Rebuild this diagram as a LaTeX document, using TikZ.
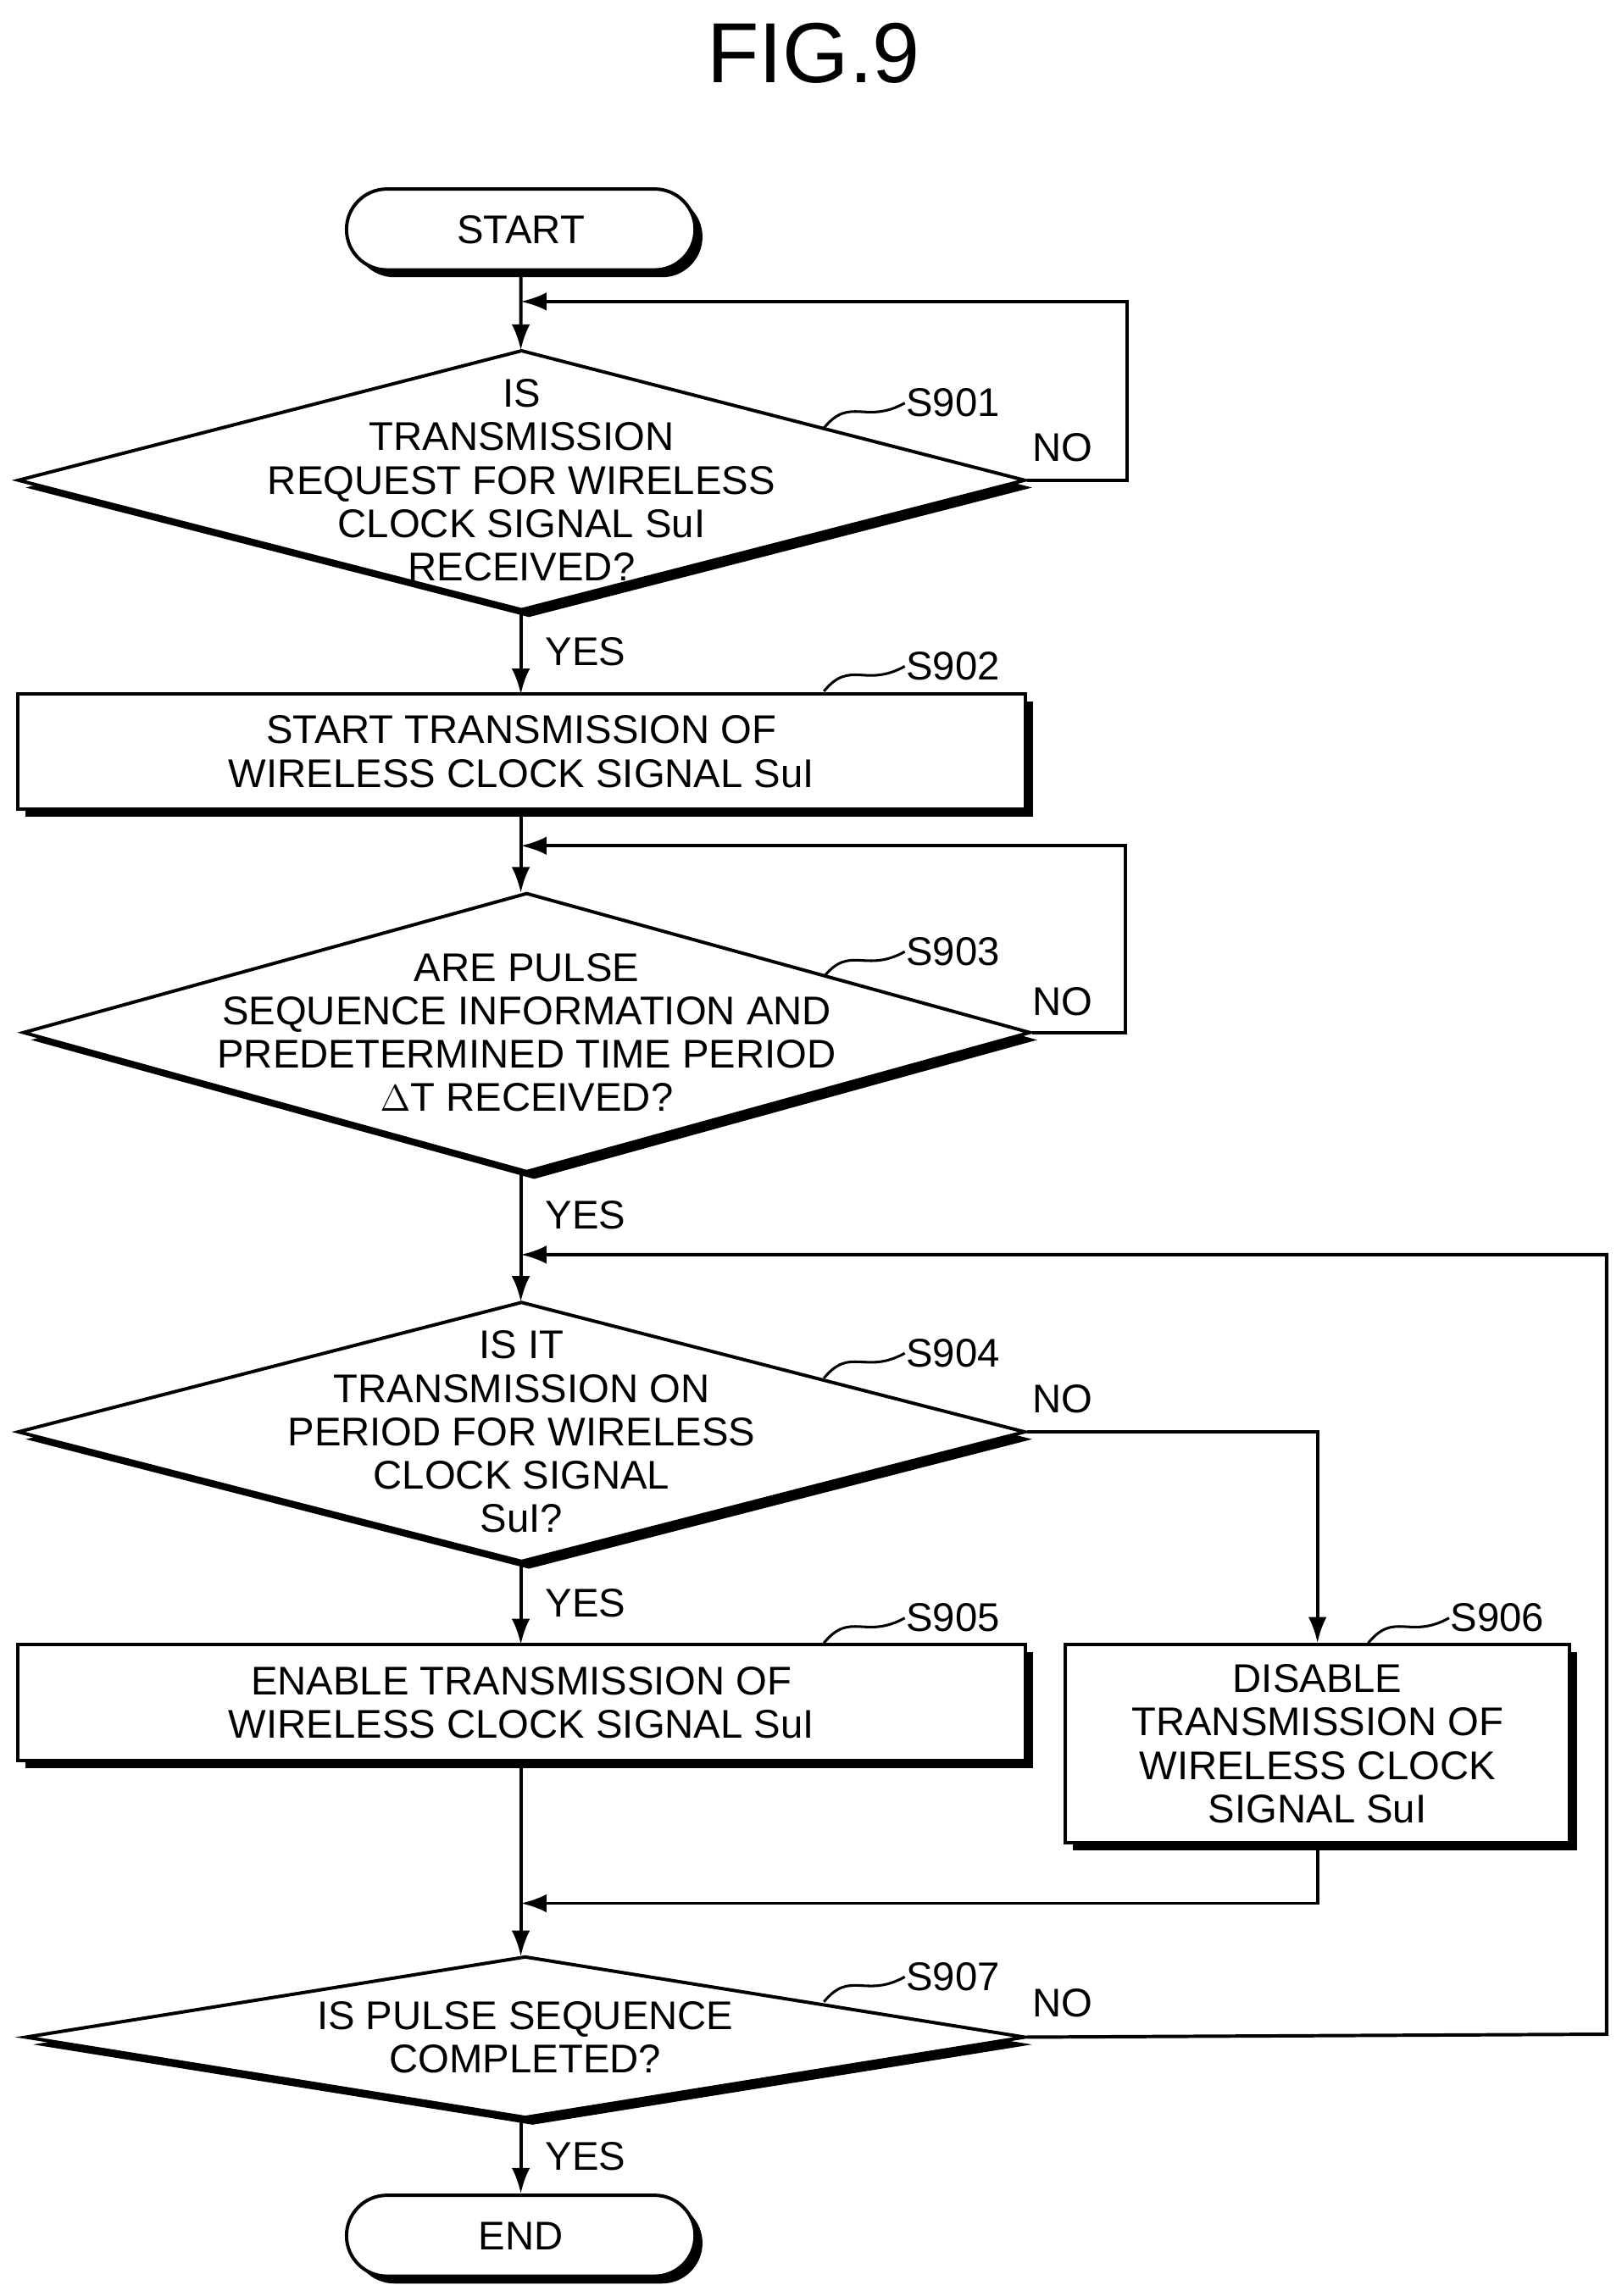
\documentclass[tikz,border=0pt]{standalone}
\usepackage{fontspec}
\setmainfont{Liberation Sans}
\usetikzlibrary{shapes.geometric,shapes.misc,shadows,arrows.meta}

\tikzset{
  base/.style={draw, line width=1.3pt, fill=white, inner sep=0pt,
    drop shadow={shadow xshift=0.1cm, shadow yshift=-0.1cm, fill=black, opacity=1}},
  term/.style={base, rounded rectangle, minimum width=4.74cm, minimum height=1.1cm},
  proc/.style={base, rectangle, align=center},
  dec/.style={base, diamond, text width=0pt},
  txt/.style={align=center, inner sep=0pt},
  line/.style={line width=1.3pt},
  arr/.style={line, -{Latex[length=0.35cm,width=0.25cm]}},
  steplbl/.style={anchor=west, inner sep=0pt},
  yn/.style={anchor=center, inner sep=0pt}
}

\begin{document}
\begin{tikzpicture}[x=0.02cm, y=-0.02cm, font=\fontsize{15.5}{16.8}\selectfont]
\useasboundingbox (0,0) rectangle (1102,1561);
\node[font=\fontsize{33}{36}\selectfont] (title) at (553,36) {FIG.9};

% flow nodes
\node[term] (start) at (354,156) {START};
\node[dec, minimum width=13.7cm, minimum height=3.54cm,
  label={[txt]center:IS\\TRANSMISSION\\REQUEST FOR WIRELESS\\CLOCK SIGNAL SuI\\RECEIVED?}] (s901) at (354.5,326.5) {};
\node[proc, minimum width=13.7cm, minimum height=1.56cm] (s902) at (354.5,511)
  {START TRANSMISSION OF\\WIRELESS CLOCK SIGNAL SuI};
\node[dec, minimum width=13.7cm, minimum height=3.8cm,
  label={[txt]center:ARE PULSE\\SEQUENCE INFORMATION AND\\PREDETERMINED TIME PERIOD\\$\Delta$T RECEIVED?}] (s903) at (358,702) {};
\node[dec, minimum width=13.7cm, minimum height=3.54cm,
  label={[txt]center:IS IT\\TRANSMISSION ON\\PERIOD FOR WIRELESS\\CLOCK SIGNAL\\SuI?}] (s904) at (354.5,973.5) {};
\node[proc, minimum width=13.7cm, minimum height=1.58cm] (s905) at (354.5,1157.5)
  {ENABLE TRANSMISSION OF\\WIRELESS CLOCK SIGNAL SuI};
\node[proc, minimum width=6.86cm, minimum height=2.7cm] (s906) at (895.5,1185.5)
  {DISABLE\\TRANSMISSION OF\\WIRELESS CLOCK\\SIGNAL SuI};
\node[dec, minimum width=13.6cm, minimum height=2.2cm,
  label={[txt]center:IS PULSE SEQUENCE\\COMPLETED?}] (s907) at (357,1385) {};
\node[term] (end) at (354,1520) {END};

% merge points
\coordinate (m1) at (354,205);
\coordinate (m3) at (354,575);
\coordinate (m4) at (354,853);
\coordinate (m7) at (354,1294);

% connectors
\draw[arr] (start) -- (354,238);
\draw[arr] (s901.east) -- ++(68,0) |- (m1);
\draw[arr] (354,415) -- (354,472);
\draw[arr] (354,550) -- (354,607);
\draw[arr] (s903.east) -- (765,702) |- (m3);
\draw[arr] (354,797) -- (354,885);
\draw[arr] (s904.east) -| (s906.north);
\draw[arr] (354,1062) -- (354,1118);
\draw[arr] (354,1197) -- (354,1330);
\draw[arr] (s906.south) |- (m7);
\draw[arr] (s907.east) -- (1092,1383) |- (m4);
\draw[arr] (354,1440) -- (end.north);

% YES / NO
\node[yn] (y1) at (398,443) {YES};
\node[yn] (y3) at (398,826) {YES};
\node[yn] (y4) at (398,1090) {YES};
\node[yn] (y7) at (398,1466) {YES};
\node[yn] (n1) at (722,304) {NO};
\node[yn] (n3) at (722,681) {NO};
\node[yn] (n4) at (722,951) {NO};
\node[yn] (n7) at (722,1362) {NO};

% step labels
\foreach \nm/\x/\y in {S901/560/291, S902/560/470, S903/560/664, S904/560/937,
                       S905/560/1117, S906/930/1117, S907/560/1361}{
  \draw[line width=1pt] (\x,\y) .. controls (\x+18,\y-22) and (\x+28,\y-2) .. (\x+55,\y-17)
    node[steplbl] {\nm};
}
\end{tikzpicture}
\end{document}
